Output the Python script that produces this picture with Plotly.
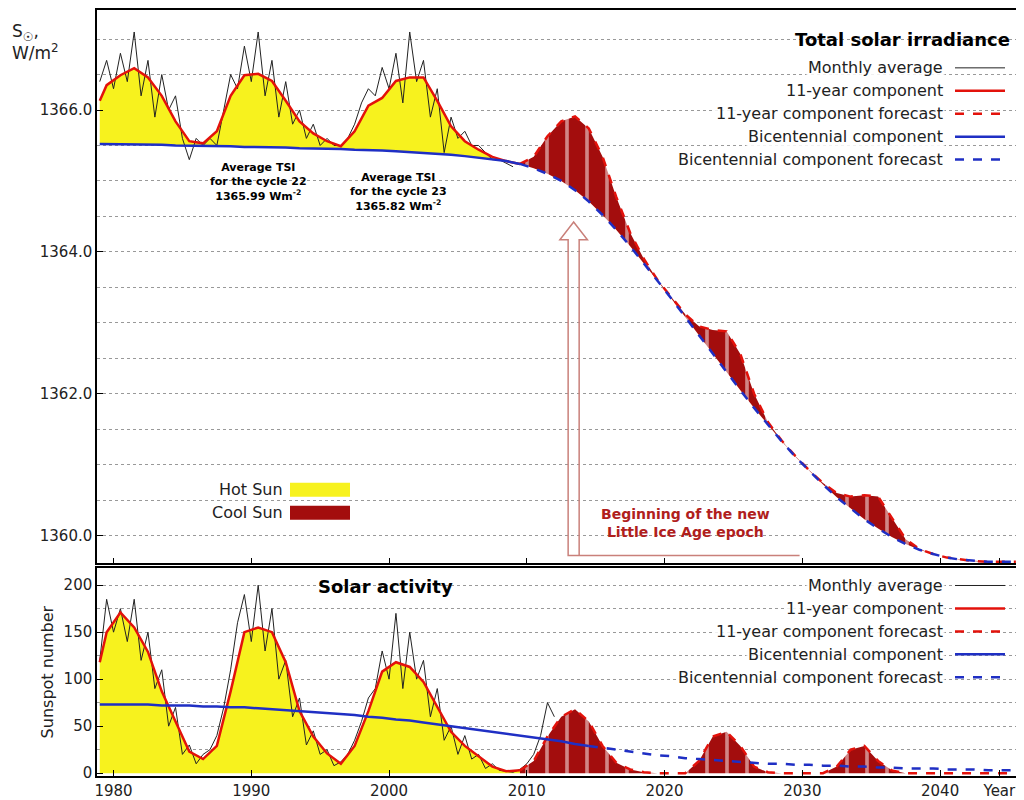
import plotly.graph_objects as go
from plotly.subplots import make_subplots

# time grid (years)
years = [1979.0] + [1979.5 + i for i in range(67)]
n_obs = 32  # 1979.0 .. 2009.5 observed, forecast starts at 2009.5

# ---- Total solar irradiance ----
tsi_bic = [1365.52, 1365.52, 1365.52, 1365.51, 1365.51, 1365.51, 1365.50, 1365.50, 1365.50, 1365.49,
           1365.49, 1365.48, 1365.48, 1365.47, 1365.47, 1365.46, 1365.46, 1365.45, 1365.45, 1365.44,
           1365.44, 1365.43, 1365.42, 1365.41, 1365.40, 1365.38, 1365.37, 1365.35, 1365.33, 1365.31,
           1365.28, 1365.24, 1365.18, 1365.10, 1365.00, 1364.87, 1364.71, 1364.52, 1364.31, 1364.08,
           1363.84, 1363.59, 1363.34, 1363.08, 1362.82, 1362.56, 1362.30, 1362.05, 1361.80, 1361.56,
           1361.33, 1361.11, 1360.91, 1360.72, 1360.54, 1360.38, 1360.23, 1360.10, 1359.98, 1359.88,
           1359.80, 1359.74, 1359.69, 1359.66, 1359.64, 1359.63, 1359.63, 1359.63]
tsi_11 = [1366.13, 1366.35, 1366.49, 1366.59, 1366.46, 1366.20, 1365.84, 1365.56, 1365.53, 1365.70,
          1366.20, 1366.49, 1366.51, 1366.41, 1366.13, 1365.84, 1365.67, 1365.56, 1365.49, 1365.70,
          1366.06, 1366.17, 1366.41, 1366.46, 1366.46, 1366.13, 1365.77, 1365.56, 1365.44, 1365.34,
          1365.28, 1365.24,
          1365.34, 1365.63, 1365.84, 1365.91, 1365.74, 1365.34, 1364.77, 1364.27, 1363.90, 1363.60,
          1363.36, 1363.12, 1362.95, 1362.90, 1362.88, 1362.56, 1362.00, 1361.60, 1361.34, 1361.12,
          1360.92, 1360.74, 1360.60, 1360.55, 1360.57, 1360.55, 1360.25, 1359.95, 1359.81, 1359.74,
          1359.69, 1359.66, 1359.64, 1359.63, 1359.63, 1359.63]

monthly_years = [1979.0 + 0.5 * i for i in range(61)]
tsi_monthly = [1366.4, 1366.7, 1366.3, 1366.8, 1366.4, 1367.1, 1366.2, 1366.7, 1365.9, 1366.5,
               1366.0, 1366.2, 1365.6, 1365.3, 1365.6, 1365.5, 1365.6, 1365.5, 1366.0, 1366.5,
               1366.3, 1366.9, 1366.4, 1367.1, 1366.2, 1366.7, 1365.9, 1366.4, 1365.8, 1366.0,
               1365.6, 1365.8, 1365.5, 1365.6, 1365.5, 1365.5, 1365.6, 1365.8, 1366.1, 1366.3,
               1366.2, 1366.6, 1366.3, 1366.8, 1366.1, 1367.1, 1366.4, 1366.7, 1365.9, 1366.3,
               1365.4, 1365.9, 1365.6, 1365.7, 1365.5, 1365.5, 1365.4, 1365.3, 1365.3, 1365.25, 1365.2]

# ---- Sunspot number ----
ssn_bic = [73, 73, 73, 73, 73, 72, 72, 72, 71, 71, 70, 70, 69, 68, 67, 66, 65, 64, 63, 62,
           60, 59, 57, 56, 54, 52, 50, 48, 46, 44, 42, 40, 38, 36, 34, 31, 29, 27, 25, 23,
           21, 19, 18, 16, 15, 14, 13, 12, 11, 10, 10, 9, 9, 8, 8, 7, 7, 6, 6, 5,
           5, 5, 4, 4, 4, 3, 3, 3]
ssn_11 = [118, 150, 171, 155, 129, 87, 55, 23, 15, 29, 87, 150, 155, 150, 118, 66, 39, 21, 10, 29,
          66, 108, 118, 113, 97, 71, 44, 29, 18, 7, 2, 3,
          13, 39, 60, 68, 55, 29, 11, 4, 1, 0, 0, 0, 13, 39, 44, 29, 7, 1, 0,
          0, 0, 0, 7, 25, 29, 13, 3, 0, 0, 0, 0, 0, 0, 0, 0, 0]
ssn_years_m = [1979.0 + 0.5 * i for i in range(67)]
ssn_monthly = [120, 185, 150, 175, 140, 185, 120, 150, 90, 110, 50, 70, 20, 30, 10, 20, 25, 40,
               70, 110, 160, 190, 140, 200, 130, 175, 100, 120, 60, 80, 30, 45, 20, 25, 8, 12,
               20, 35, 55, 80, 90, 130, 100, 170, 90, 150, 100, 120, 60, 90, 35, 50, 20, 40,
               15, 20, 5, 10, 3, 2, 1, 4, 10, 20, 40, 75, 60]
bic_split = 36  # sunspot bicentennial solid up to ~2014

YELLOW = "#f7f21e"
DARKRED = "#a30d0d"
RED = "#e3120b"
BLUE = "#1f2fc4"
FONT = "DejaVu Sans"

# page body has an 8px margin, so the figure is laid out in screen pixels minus OFF
OFF = 8
W, H = 1016, 792
LEFT, RIGHT, TOP, BOT = 97, 1020, 8, 776  # plot area in screen pixels

fig = make_subplots(rows=2, cols=1, shared_xaxes=False, vertical_spacing=0.0065,
                    row_heights=[0.727, 0.273])

pattern = dict(shape="|", bgcolor=DARKRED, fgcolor="white", size=20, solidity=0.18)
yo, yf = years[:n_obs], years[n_obs - 1:]

# top panel fills
fig.add_trace(go.Scatter(x=yo, y=tsi_bic[:n_obs], mode="lines", line=dict(width=0),
                         showlegend=False, hoverinfo="skip"), row=1, col=1)
fig.add_trace(go.Scatter(x=yo, y=tsi_11[:n_obs], mode="lines", line=dict(width=0), fill="tonexty",
                         fillcolor=YELLOW, showlegend=False, hoverinfo="skip"), row=1, col=1)
fig.add_trace(go.Scatter(x=yf, y=tsi_bic[n_obs - 1:], mode="lines", line=dict(width=0),
                         showlegend=False, hoverinfo="skip"), row=1, col=1)
fig.add_trace(go.Scatter(x=yf, y=tsi_11[n_obs - 1:], mode="lines", line=dict(width=0), fill="tonexty",
                         fillcolor=DARKRED, fillpattern=pattern, showlegend=False,
                         hoverinfo="skip"), row=1, col=1)
# top panel lines
fig.add_trace(go.Scatter(x=monthly_years, y=tsi_monthly, mode="lines",
                         line=dict(color="#222222", width=1), showlegend=False), row=1, col=1)
fig.add_trace(go.Scatter(x=yo, y=tsi_11[:n_obs], mode="lines", line=dict(color=RED, width=2.5),
                         showlegend=False), row=1, col=1)
fig.add_trace(go.Scatter(x=yf, y=tsi_11[n_obs - 1:], mode="lines",
                         line=dict(color=RED, width=2.5, dash="dash"), showlegend=False), row=1, col=1)
fig.add_trace(go.Scatter(x=yo, y=tsi_bic[:n_obs], mode="lines", line=dict(color=BLUE, width=2.5),
                         showlegend=False), row=1, col=1)
fig.add_trace(go.Scatter(x=yf, y=tsi_bic[n_obs - 1:], mode="lines",
                         line=dict(color=BLUE, width=2.5, dash="dash"), showlegend=False), row=1, col=1)

# bottom panel fills
fig.add_trace(go.Scatter(x=yo, y=ssn_11[:n_obs], mode="lines", line=dict(width=0), fill="tozeroy",
                         fillcolor=YELLOW, showlegend=False, hoverinfo="skip"), row=2, col=1)
fig.add_trace(go.Scatter(x=yf, y=ssn_11[n_obs - 1:], mode="lines", line=dict(width=0), fill="tozeroy",
                         fillcolor=DARKRED, fillpattern=pattern, showlegend=False,
                         hoverinfo="skip"), row=2, col=1)
fig.add_trace(go.Scatter(x=ssn_years_m, y=ssn_monthly, mode="lines",
                         line=dict(color="#222222", width=1), showlegend=False), row=2, col=1)
fig.add_trace(go.Scatter(x=yo, y=ssn_11[:n_obs], mode="lines", line=dict(color=RED, width=2.5),
                         showlegend=False), row=2, col=1)
fig.add_trace(go.Scatter(x=yf, y=ssn_11[n_obs - 1:], mode="lines",
                         line=dict(color=RED, width=2.5, dash="dash"), showlegend=False), row=2, col=1)
fig.add_trace(go.Scatter(x=years[:bic_split + 1], y=ssn_bic[:bic_split + 1], mode="lines",
                         line=dict(color=BLUE, width=2.5), showlegend=False), row=2, col=1)
fig.add_trace(go.Scatter(x=years[bic_split:], y=ssn_bic[bic_split:], mode="lines",
                         line=dict(color=BLUE, width=2.5, dash="dash"), showlegend=False), row=2, col=1)

axis_common = dict(showline=True, linecolor="black", linewidth=1.5, mirror=True, ticks="inside",
                   ticklen=6, tickcolor="black", tickfont=dict(family=FONT, size=15, color="#222"))
fig.update_xaxes(range=[1978.8, 2045.8], tickvals=[1980, 1990, 2000, 2010, 2020, 2030, 2040, 2044.3],
                 ticktext=["1980", "1990", "2000", "2010", "2020", "2030", "2040", "Year"],
                 showgrid=False, **axis_common)
fig.update_xaxes(showticklabels=False, row=1, col=1)
fig.update_yaxes(range=[1359.61, 1367.41], tickvals=[1360, 1362, 1364, 1366], tickformat=".1f",
                 showgrid=True, gridcolor="#999", griddash="dot", gridwidth=1,
                 minor=dict(dtick=0.5, showgrid=True, gridcolor="#999", griddash="dot", ticks=""),
                 row=1, col=1, **axis_common)
fig.update_yaxes(range=[-3, 218], tickvals=[0, 50, 100, 150, 200],
                 showgrid=True, gridcolor="#999", griddash="dot", gridwidth=1,
                 minor=dict(dtick=25, showgrid=True, gridcolor="#999", griddash="dot", ticks=""),
                 title=dict(text="Sunspot number", font=dict(family=FONT, size=16, color="#222"),
                            standoff=6),
                 row=2, col=1, **axis_common)


def py(p):
    return (BOT - p) / (BOT - TOP)


def px(p):
    return (p - LEFT) / (RIGHT - LEFT)


anns = []
shapes = []


def legend_block(title, tx, ty, rows, y0):
    anns.append(dict(text="<b>" + title + "</b>", x=px(tx), y=py(ty), xref="paper", yref="paper",
                     xanchor="right" if tx > 600 else "center", yanchor="middle", showarrow=False,
                     font=dict(family=FONT, size=18, color="black")))
    for i, (label, color, width, dash) in enumerate(rows):
        yy = y0 + 23 * i
        anns.append(dict(text=label, x=px(945), y=py(yy), xref="paper", yref="paper",
                         xanchor="right", yanchor="middle", showarrow=False,
                         font=dict(family=FONT, size=16, color="#222"),
                         bgcolor="rgba(255,255,255,0.85)"))
        shapes.append(dict(type="line", xref="paper", yref="paper", x0=px(955), x1=px(1005),
                           y0=py(yy), y1=py(yy), line=dict(color=color, width=width, dash=dash)))


leg_rows = [("Monthly average", "#222", 1, "solid"), ("11-year component", RED, 2.5, "solid"),
            ("11-year component forecast", RED, 2.5, "dash"), ("Bicentennial component", BLUE, 2.5, "solid"),
            ("Bicentennial component forecast", BLUE, 2.5, "dash")]
legend_block("Total solar irradiance", 1012, 38, leg_rows, 66)
legend_block("Solar activity", 385, 586, leg_rows, 585)

# Hot / Cool sun legend
for lbl, col, yy in [("Hot Sun", YELLOW, 489), ("Cool Sun", DARKRED, 512)]:
    anns.append(dict(text=lbl, x=px(285), y=py(yy), xref="paper", yref="paper", xanchor="right",
                     yanchor="middle", showarrow=False, font=dict(family=FONT, size=16, color="#222")))
    shapes.append(dict(type="rect", xref="paper", yref="paper", x0=px(290), x1=px(350),
                       y0=py(yy + 7), y1=py(yy - 7), fillcolor=col, line=dict(width=0)))

# cycle annotations
for txt, xx, yy in [("Average TSI<br>for the cycle 22<br>1365.99 Wm<sup>-2</sup>", 1990.5, 1364.98),
                    ("Average TSI<br>for the cycle 23<br>1365.82 Wm<sup>-2</sup>", 2000.7, 1364.85)]:
    anns.append(dict(text="<b>" + txt + "</b>", x=xx, y=yy, xref="x", yref="y", showarrow=False,
                     align="center", font=dict(family=FONT, size=11, color="black")))

# y-axis unit label
anns.append(dict(text="S<sub>☉</sub>,<br>W/m<sup>2</sup>", x=px(10), y=py(40), xref="paper", yref="paper",
                 xanchor="left", yanchor="middle", showarrow=False, align="left",
                 font=dict(family=FONT, size=17, color="#222")))

# arrow and text box
shapes.append(dict(type="path", xref="x", yref="y", line=dict(color="#c9807a", width=1.5),
                   path="M 2029.8,1359.72 L 2013.0,1359.72 L 2013.0,1364.17 L 2012.4,1364.17 "
                        "L 2013.4,1364.42 L 2014.4,1364.17 L 2013.8,1364.17 L 2013.8,1359.72"))
anns.append(dict(text="<b>Beginning of the new<br>Little Ice Age epoch</b>", x=2021.5, y=1360.18,
                 xref="x", yref="y", showarrow=False, align="center",
                 font=dict(family=FONT, size=14, color="#b0201c")))

fig.update_layout(width=W, height=H,
                  margin=dict(l=LEFT - OFF, r=W - (RIGHT - OFF), t=TOP - OFF, b=H - (BOT - OFF)),
                  plot_bgcolor="white", paper_bgcolor="white", annotations=anns, shapes=shapes,
                  font=dict(family=FONT))
fig.write_html("out.html")
